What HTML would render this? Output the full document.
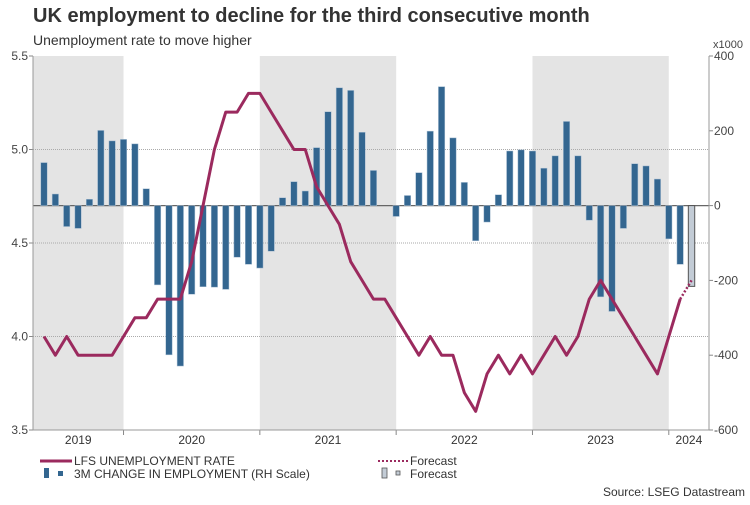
<!DOCTYPE html>
<html><head><meta charset="utf-8"><style>
body{margin:0;background:#fff;font-family:"Liberation Sans",Arial,sans-serif;}
svg text{font-family:"Liberation Sans",Arial,sans-serif;}
</style></head><body>
<svg id="chart" width="750" height="500" viewBox="0 0 750 500" xmlns="http://www.w3.org/2000/svg">
<text x="33" y="22" font-size="20" font-weight="bold" fill="#333">UK employment to decline for the third consecutive month</text>
<text x="33" y="45" font-size="14" fill="#333">Unemployment rate to move higher</text>
<text x="713" y="48" font-size="11" fill="#444">x1000</text>
<g id="bands"></g><g id="grid"></g><g id="bars"></g><g id="line"></g><g id="axes"></g>
<g>
<line x1="40" y1="461" x2="72" y2="461" stroke="#9b2a5e" stroke-width="3"/>
<text x="74" y="465" font-size="12" fill="#333">LFS UNEMPLOYMENT RATE</text>
<rect x="44" y="468" width="5" height="10" fill="#336690"/>
<rect x="58" y="471" width="5" height="5" fill="#336690"/>
<text x="74" y="478" font-size="12" fill="#333">3M CHANGE IN EMPLOYMENT (RH Scale)</text>
<line x1="378" y1="461" x2="408" y2="461" stroke="#9b2a5e" stroke-width="2" stroke-dasharray="2,2"/>
<text x="410" y="465" font-size="12" fill="#333">Forecast</text>
<rect x="382" y="468" width="5" height="10" fill="#c3ccd6" stroke="#555" stroke-width="0.8"/>
<rect x="396" y="471" width="4" height="4" fill="#c3ccd6" stroke="#555" stroke-width="0.8"/>
<text x="410" y="478" font-size="12" fill="#333">Forecast</text>
</g>
<text x="745" y="496" font-size="12" fill="#333" text-anchor="end">Source: LSEG Datastream</text>
</svg>
<script>
const years = ["2019","2020","2021","2022","2023","2024"];
const leftTicks = [3.5,4.0,4.5,5.0,5.5];
const rightTicks = [-600,-400,-200,0,200,400];
const employment = [115,31,-56,-61,17,201,173,177,165,45,-212,-399,-429,-237,-217,-218,-224,-138,-157,-167,-122,21,64,39,155,251,315,308,196,94,0,-29,27,88,199,318,181,62,-94,-44,29,146,149,146,100,133,225,133,-39,-244,-283,-61,112,106,71,-89,-157];
const employmentForecast = [-216];
const unemployment = [4.0,3.9,4.0,3.9,3.9,3.9,3.9,4.0,4.1,4.1,4.2,4.2,4.2,4.4,4.7,5.0,5.2,5.2,5.3,5.3,5.2,5.1,5.0,5.0,4.8,4.7,4.6,4.4,4.3,4.2,4.2,4.1,4.0,3.9,4.0,3.9,3.9,3.7,3.6,3.8,3.9,3.8,3.9,3.8,3.9,4.0,3.9,4.0,4.2,4.3,4.2,4.1,4.0,3.9,3.8,4.0,4.2];
const unemploymentForecast = [4.3];

const NS="http://www.w3.org/2000/svg";
const X0=33,X1=709,YT=56,YB=430;
const x=i=>44+i*11.36;
const yL=v=>YB-(v-3.5)/2*(YB-YT);
const yR=v=>YB-(v+600)/1000*(YB-YT);
function mk(tag,attrs,parent){const e=document.createElementNS(NS,tag);for(const k in attrs)e.setAttribute(k,attrs[k]);document.getElementById(parent).appendChild(e);return e;}
// bands: year boundaries at index 7,19,31,43,55
const yb=[x(-8),x(7),x(19),x(31),x(43),x(55),X1];
for(let k=0;k<years.length;k++){
  const a=Math.max(X0,yb[k]), b=Math.min(X1,yb[k+1]);
  if(k%2===0){const r=mk('rect',{x:a,y:YT,width:b-a,height:YB-YT,fill:'#e4e4e4'},'bands');
  
  }
  const t=mk('text',{x:(a+b)/2,y:444,'font-size':12,fill:'#333','text-anchor':'middle'},'axes');t.textContent=years[k];
  
  
  if(k>0){const l=mk('line',{x1:a,x2:a,y1:YB,y2:YB+5,stroke:'#888'},'axes');
  
  }
}
leftTicks.forEach(v=>{
  if(v>3.5&&v<5.5){const g=mk('line',{x1:X0,x2:X1,y1:yL(v),y2:yL(v),stroke:'#aaa','stroke-dasharray':'1,1'},'grid');
  
  }
  const t=mk('text',{x:28,y:yL(v)+4,'font-size':12,fill:'#444','text-anchor':'end'},'axes');t.textContent=v.toFixed(1);
  
  
  mk('line',{x1:X0-4,x2:X0,y1:yL(v),y2:yL(v),stroke:'#888'},'axes');
});
rightTicks.forEach(v=>{
  const t=mk('text',{x:714,y:yR(v)+4,'font-size':12,fill:'#444'},'axes');t.textContent=v;
  
  
  mk('line',{x1:X1,x2:X1+4,y1:yR(v),y2:yR(v),stroke:'#888'},'axes');
});
mk('line',{x1:X0,x2:X0,y1:YT,y2:YB,stroke:'#999'},'axes');
mk('line',{x1:X1,x2:X1,y1:YT,y2:YB,stroke:'#999'},'axes');
mk('line',{x1:X0,x2:X1,y1:YB,y2:YB,stroke:'#999'},'axes');
const z=mk('line',{x1:X0,x2:X1,y1:yR(0),y2:yR(0),stroke:'#666','stroke-width':1.2},'grid');


employment.forEach((v,i)=>{
  const r=mk('rect',{x:x(i)-3.2,y:Math.min(yR(v),yR(0)),width:6.4,height:Math.abs(yR(v)-yR(0)),fill:'#336690',stroke:'#a9bfd3','stroke-width':0.5},'bars');
  
  
});
employmentForecast.forEach((v,j)=>{
  const i=employment.length+j;
  const r=mk('rect',{x:x(i)-3.2,y:Math.min(yR(v),yR(0)),width:6.4,height:Math.abs(yR(v)-yR(0)),fill:'#c3ccd6',stroke:'#555','stroke-width':1},'bars');
  
  
});
const p=mk('polyline',{points:unemployment.map((v,i)=>x(i)+','+yL(v)).join(' '),fill:'none',stroke:'#9b2a5e','stroke-width':3,'stroke-linejoin':'round'},'line');


const n=unemployment.length-1;
const fp=[x(n)+','+yL(unemployment[n])].concat(unemploymentForecast.map((v,j)=>x(n+1+j)+','+yL(v))).join(' ');
const f=mk('polyline',{points:fp,fill:'none',stroke:'#9b2a5e','stroke-width':2.5,'stroke-dasharray':'2,2'},'line');


</script>
</body></html>
